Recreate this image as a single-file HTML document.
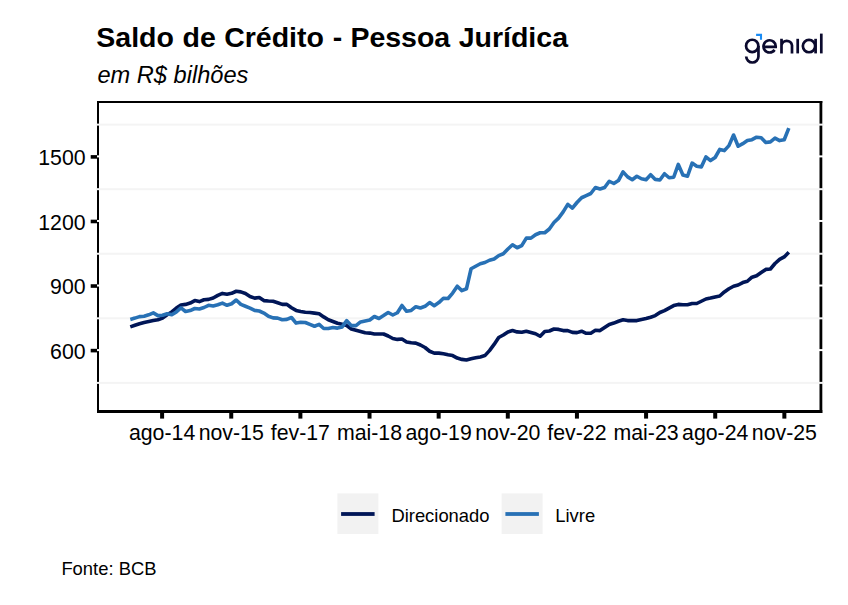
<!DOCTYPE html>
<html><head><meta charset="utf-8"><style>
html,body{margin:0;padding:0;background:#fff;width:848px;height:605px;overflow:hidden}
svg{display:block}
text{font-family:"Liberation Sans",sans-serif;fill:#000}
.title{font-size:28.5px;font-weight:bold}
.sub{font-size:23.6px;font-style:italic}
.ax{font-size:21.3px;fill:#000}
.leg{font-size:18.4px}
</style></head><body>
<svg width="848" height="605" viewBox="0 0 848 605">
<rect x="97" y="101" width="2" height="312" fill="#000"/>
<rect x="97" y="101" width="725.3" height="2" fill="#000"/>
<rect x="819.5" y="101" width="2.8" height="312" fill="#000"/>
<rect x="97" y="410" width="725.3" height="3" fill="#000"/>
<rect x="96" y="123.62" width="728" height="2" fill="#f4f4f4"/>
<rect x="96" y="188.18" width="728" height="2" fill="#f4f4f4"/>
<rect x="96" y="252.75" width="728" height="2" fill="#f4f4f4"/>
<rect x="96" y="317.32" width="728" height="2" fill="#f4f4f4"/>
<rect x="96" y="381.88" width="728" height="2" fill="#f4f4f4"/>
<rect x="96" y="155.40" width="728" height="2" fill="#fff"/>
<rect x="96" y="219.97" width="728" height="2" fill="#fff"/>
<rect x="96" y="284.53" width="728" height="2" fill="#fff"/>
<rect x="96" y="349.10" width="728" height="2" fill="#fff"/>
<rect x="90.7" y="155.10" width="6.3" height="3.6" fill="#000"/>
<text x="85.6" y="165.00" text-anchor="end" class="ax">1500</text>
<rect x="90.7" y="219.67" width="6.3" height="3.6" fill="#000"/>
<text x="85.6" y="229.57" text-anchor="end" class="ax">1200</text>
<rect x="90.7" y="284.23" width="6.3" height="3.6" fill="#000"/>
<text x="85.6" y="294.13" text-anchor="end" class="ax">900</text>
<rect x="90.7" y="348.80" width="6.3" height="3.6" fill="#000"/>
<text x="85.6" y="358.70" text-anchor="end" class="ax">600</text>
<rect x="160.10" y="412" width="4" height="6.6" fill="#000"/>
<text x="162.10" y="440.2" text-anchor="middle" class="ax">ago-14</text>
<rect x="229.24" y="412" width="4" height="6.6" fill="#000"/>
<text x="231.24" y="440.2" text-anchor="middle" class="ax">nov-15</text>
<rect x="298.38" y="412" width="4" height="6.6" fill="#000"/>
<text x="300.38" y="440.2" text-anchor="middle" class="ax">fev-17</text>
<rect x="367.52" y="412" width="4" height="6.6" fill="#000"/>
<text x="369.52" y="440.2" text-anchor="middle" class="ax">mai-18</text>
<rect x="436.66" y="412" width="4" height="6.6" fill="#000"/>
<text x="438.66" y="440.2" text-anchor="middle" class="ax">ago-19</text>
<rect x="505.80" y="412" width="4" height="6.6" fill="#000"/>
<text x="507.80" y="440.2" text-anchor="middle" class="ax">nov-20</text>
<rect x="574.94" y="412" width="4" height="6.6" fill="#000"/>
<text x="576.94" y="440.2" text-anchor="middle" class="ax">fev-22</text>
<rect x="644.08" y="412" width="4" height="6.6" fill="#000"/>
<text x="646.08" y="440.2" text-anchor="middle" class="ax">mai-23</text>
<rect x="713.22" y="412" width="4" height="6.6" fill="#000"/>
<text x="715.22" y="440.2" text-anchor="middle" class="ax">ago-24</text>
<rect x="782.36" y="412" width="4" height="6.6" fill="#000"/>
<text x="784.36" y="440.2" text-anchor="middle" class="ax">nov-25</text>
<path d="M130.30 326.90 L134.91 325.30 L139.51 323.80 L144.12 322.50 L148.72 321.50 L153.33 320.60 L157.93 319.80 L162.54 318.10 L167.14 314.80 L171.75 311.90 L176.35 308.10 L180.96 305.00 L185.56 304.40 L190.17 303.10 L194.77 300.60 L199.38 301.60 L203.98 299.80 L208.59 299.40 L213.19 298.00 L217.80 295.40 L222.40 293.40 L227.01 294.20 L231.61 293.30 L236.22 291.25 L240.82 291.90 L245.43 293.50 L250.03 296.50 L254.64 298.10 L259.24 297.50 L263.85 300.60 L268.45 301.00 L273.06 301.25 L277.66 302.75 L282.26 304.40 L286.87 304.40 L291.48 307.75 L296.08 310.40 L300.69 311.50 L305.29 312.25 L309.90 312.50 L314.50 313.10 L319.11 313.75 L323.71 316.90 L328.32 319.75 L332.92 321.50 L337.53 323.30 L342.13 324.30 L346.74 325.60 L351.34 329.00 L355.95 330.25 L360.55 331.50 L365.16 332.75 L369.76 333.10 L374.37 334.00 L378.97 334.00 L383.58 334.00 L388.18 336.00 L392.79 338.50 L397.39 339.40 L402.00 339.00 L406.60 341.90 L411.21 342.75 L415.81 343.10 L420.42 345.00 L425.02 347.50 L429.63 351.25 L434.23 353.10 L438.84 353.10 L443.44 353.75 L448.05 354.75 L452.65 355.60 L457.26 358.10 L461.86 359.40 L466.47 360.00 L471.07 358.75 L475.68 357.75 L480.28 356.90 L484.89 355.60 L489.49 350.60 L494.10 344.40 L498.70 337.50 L503.31 335.00 L507.91 331.90 L512.52 330.60 L517.12 331.90 L521.73 332.25 L526.33 331.25 L530.94 332.50 L535.54 333.75 L540.14 336.25 L544.75 331.50 L549.36 331.00 L553.96 329.00 L558.57 329.40 L563.17 330.60 L567.78 330.60 L572.38 332.40 L576.99 332.60 L581.59 331.20 L586.20 333.30 L590.80 333.20 L595.40 330.25 L600.01 330.60 L604.62 327.50 L609.22 324.40 L613.83 323.10 L618.43 321.25 L623.04 319.75 L627.64 320.60 L632.25 320.60 L636.85 320.60 L641.46 319.40 L646.06 318.50 L650.66 317.25 L655.27 315.60 L659.88 312.50 L664.48 310.60 L669.09 308.10 L673.69 305.60 L678.30 304.40 L682.90 304.75 L687.51 304.75 L692.11 303.50 L696.72 303.50 L701.32 301.25 L705.92 299.00 L710.53 298.10 L715.13 296.90 L719.74 296.00 L724.35 291.90 L728.95 288.75 L733.56 286.25 L738.16 285.00 L742.77 282.60 L747.37 281.25 L751.98 277.20 L756.58 275.80 L761.19 272.50 L765.79 269.40 L770.39 269.00 L775.00 263.50 L779.61 259.40 L784.21 256.90 L788.82 252.25" fill="none" stroke="#001657" stroke-width="3.6" stroke-linejoin="round" stroke-linecap="butt"/>
<path d="M130.30 319.40 L134.91 318.10 L139.51 316.60 L144.12 316.30 L148.72 314.80 L153.33 312.90 L157.93 315.60 L162.54 315.30 L167.14 313.80 L171.75 314.80 L176.35 311.90 L180.96 307.80 L185.56 311.50 L190.17 310.60 L194.77 308.50 L199.38 309.00 L203.98 307.50 L208.59 305.30 L213.19 306.00 L217.80 304.80 L222.40 303.10 L227.01 305.30 L231.61 303.75 L236.22 300.00 L240.82 304.40 L245.43 306.25 L250.03 308.10 L254.64 310.40 L259.24 311.00 L263.85 313.10 L268.45 316.25 L273.06 317.90 L277.66 318.10 L282.26 319.75 L286.87 319.40 L291.48 317.50 L296.08 323.10 L300.69 322.25 L305.29 322.50 L309.90 324.40 L314.50 326.25 L319.11 324.40 L323.71 328.50 L328.32 328.50 L332.92 327.50 L337.53 328.10 L342.13 326.90 L346.74 320.60 L351.34 325.60 L355.95 325.60 L360.55 321.90 L365.16 321.00 L369.76 320.00 L374.37 316.50 L378.97 318.50 L383.58 315.60 L388.18 312.50 L392.79 315.00 L397.39 312.75 L402.00 305.50 L406.60 311.30 L411.21 310.45 L415.81 306.70 L420.42 307.95 L425.02 306.30 L429.63 302.60 L434.23 305.70 L438.84 302.60 L443.44 298.20 L448.05 298.50 L452.65 293.10 L457.26 286.25 L461.86 290.60 L466.47 288.75 L471.07 268.75 L475.68 266.25 L480.28 263.75 L484.89 262.50 L489.49 260.25 L494.10 259.00 L498.70 255.60 L503.31 253.75 L507.91 249.00 L512.52 244.75 L517.12 247.75 L521.73 245.60 L526.33 238.10 L530.94 238.10 L535.54 234.75 L540.14 232.75 L544.75 232.75 L549.36 229.00 L553.96 222.50 L558.57 218.10 L563.17 211.90 L567.78 204.40 L572.38 208.10 L576.99 202.50 L581.59 197.75 L586.20 195.60 L590.80 193.50 L595.40 187.50 L600.01 189.00 L604.62 187.50 L609.22 181.25 L613.83 183.50 L618.43 180.60 L623.04 171.90 L627.64 176.90 L632.25 179.75 L636.85 176.25 L641.46 178.75 L646.06 179.75 L650.66 174.75 L655.27 179.40 L659.88 180.00 L664.48 173.75 L669.09 177.75 L673.69 177.25 L678.30 164.40 L682.90 175.00 L687.51 176.25 L692.11 163.10 L696.72 166.25 L701.32 166.90 L705.92 156.90 L710.53 160.60 L715.13 157.50 L719.74 149.40 L724.35 150.60 L728.95 145.60 L733.56 135.00 L738.16 146.25 L742.77 143.70 L747.37 140.60 L751.98 139.70 L756.58 137.20 L761.19 137.80 L765.79 142.50 L770.39 141.90 L775.00 138.10 L779.61 140.60 L784.21 139.75 L788.82 128.10" fill="none" stroke="#2871b5" stroke-width="3.6" stroke-linejoin="round" stroke-linecap="butt"/>
<text x="96.30" y="47.4" class="title">Saldo</text>
<text x="182.55" y="47.4" class="title">de</text>
<text x="224.20" y="47.4" class="title">Crédito</text>
<text x="332.70" y="47.4" class="title">-</text>
<text x="350.40" y="47.4" class="title">Pessoa</text>
<text x="458.70" y="47.4" class="title">Jurídica</text>
<text x="97.5" y="83.3" class="sub">em R$ bilhões</text>
<rect x="337.4" y="493.4" width="41" height="40.6" fill="#f2f2f2"/>
<rect x="341.1" y="512.1" width="33.5" height="3.8" fill="#001657"/>
<text x="391.4" y="521.6" class="leg">Direcionado</text>
<rect x="501.6" y="493.4" width="41" height="40.6" fill="#f2f2f2"/>
<rect x="505.4" y="512.1" width="33.5" height="3.8" fill="#2871b5"/>
<text x="555.3" y="521.6" class="leg">Livre</text>
<text x="61.4" y="575.1" class="leg">Fonte: BCB</text>
<g fill="none" stroke="#0b0a2e" stroke-width="2.7">
<circle cx="752.2" cy="45.9" r="6.15"/>
<path d="M758.45 45.9 V56.4 A6.1 6.1 0 0 1 746.25 56.4 V56.9"/>
<path d="M763.3 46.8 H775.7 A6.1 6.1 0 1 0 774.6 49.9"/>
<path d="M781.5 53.4 V38.8 M781.5 45.4 A5.3 5.3 0 0 1 792.0 45.4 V53.4"/>
<path d="M797.7 38.8 V53.4"/>
<circle cx="809.0" cy="46.1" r="6.15"/>
<path d="M815.6 38.8 V53.4"/>
<path d="M821.3 33.6 V53.4"/>
</g>
<path d="M756.1 34.85 H761 V39.7" fill="none" stroke="#1a8cf5" stroke-width="2.1" stroke-linejoin="miter"/>
</svg>
</body></html>
